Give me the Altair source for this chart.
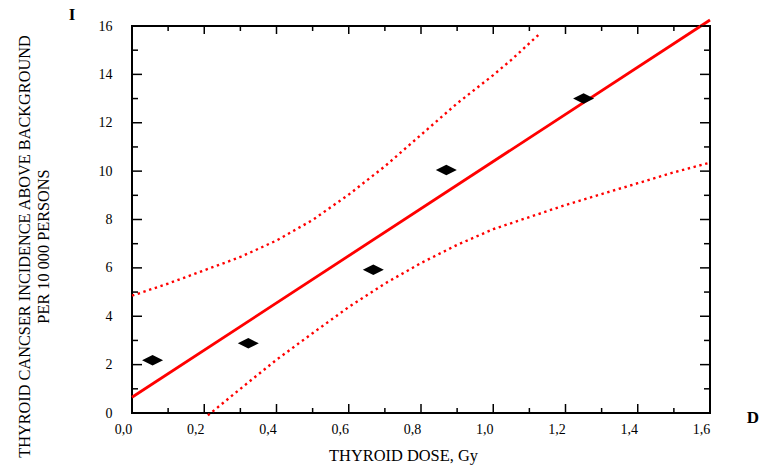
import altair as alt
import pandas as pd

# ---- data ----
dose_points = [0.057, 0.322, 0.668, 0.870, 1.250]
incidence_points = [2.18, 2.88, 5.92, 10.05, 13.00]

fit_dose = [0.0, 1.6]
fit_incidence = [0.65, 16.25]

upper_dose = [0.0, 0.1, 0.2, 0.3, 0.4, 0.5, 0.6, 0.7, 0.8, 0.9, 1.0, 1.05, 1.13]
upper_incidence = [4.85, 5.35, 5.90, 6.45, 7.13, 7.98, 9.03, 10.20, 11.50, 12.80, 13.97, 14.60, 15.70]

lower_dose = [0.21, 0.3, 0.4, 0.5, 0.6, 0.7, 0.8, 0.9, 1.0, 1.1, 1.2, 1.3, 1.4, 1.5, 1.6]
lower_incidence = [-0.10, 1.00, 2.20, 3.30, 4.38, 5.35, 6.20, 6.95, 7.60, 8.10, 8.60, 9.05, 9.50, 9.95, 10.35]

x_major = [0.0, 0.2, 0.4, 0.6, 0.8, 1.0, 1.2, 1.4, 1.6]
x_minor = [0.1, 0.3, 0.5, 0.7, 0.9, 1.1, 1.3, 1.5]
y_major = [0, 2, 4, 6, 8, 10, 12, 14, 16]
y_minor = [1, 3, 5, 7, 9, 11, 13, 15]

x_title = "THYROID DOSE, Gy"
y_title = ["THYROID CANCSER INCIDENCE ABOVE BACKGROUND", "PER 10 000 PERSONS"]
corner_labels = ["I", "D"]

# ---- layout ----
W, H = 578, 387
FONT = "Liberation Serif"
RED = "#ff0000"

xs = alt.Scale(domain=[0, 1.6], nice=False, zero=False)
ys = alt.Scale(domain=[0, 16], nice=False, zero=False)

pts = pd.DataFrame({"dose": dose_points, "inc": incidence_points})
fit = pd.DataFrame({"dose": fit_dose, "inc": fit_incidence})
upper = pd.DataFrame({"dose": upper_dose, "inc": upper_incidence})
lower = pd.DataFrame({"dose": lower_dose, "inc": lower_incidence})

x_axis = alt.Axis(
    values=x_major,
    labelExpr="replace(format(datum.value, '.1f'), '.', ',')",
    domain=False, ticks=False, grid=False,
    labelPadding=9, labelOffset=-9, labelFlush=False,
    labelFontSize=14, titleFontSize=16.4, titlePadding=11,
    titleX=271,
)
y_axis = alt.Axis(
    values=y_major,
    format="d",
    domain=False, ticks=False, grid=False,
    labelPadding=20, labelFontSize=14, titleFontSize=16.3,
    titleLineHeight=19, titlePadding=47, titleY=220,
)


def X(field):
    return alt.X(field, type="quantitative", scale=xs, axis=x_axis, title=x_title)


def Y(field):
    return alt.Y(field, type="quantitative", scale=ys, axis=y_axis, title=y_title)


fit_line = alt.Chart(fit).mark_line(color=RED, strokeWidth=2.8).encode(
    x=X("dose"), y=Y("inc"),
)


def dotted(df):
    return alt.Chart(df).mark_line(
        color=RED, strokeWidth=2.4, strokeDash=[2.4, 3.6]
    ).encode(x=X("dose"), y=Y("inc"))


diamonds = alt.Chart(pts).mark_point(
    shape="M-1,0L0,-0.5L1,0L0,0.5Z", filled=True, color="black", opacity=1, size=441
).encode(x=X("dose"), y=Y("inc"))


def x_ticks(vals, length, top):
    d = pd.DataFrame({"dose": vals})
    if top:
        yy, yy2 = alt.value(0), alt.value(length)
    else:
        yy, yy2 = alt.value(H), alt.value(H - length)
    return alt.Chart(d).mark_rule(color="black", strokeWidth=1.5).encode(
        x=X("dose"), y=yy, y2=yy2
    )


def y_ticks(vals, length, right):
    d = pd.DataFrame({"inc": vals})
    if right:
        xx, xx2 = alt.value(W), alt.value(W - length)
    else:
        xx, xx2 = alt.value(0), alt.value(length)
    return alt.Chart(d).mark_rule(color="black", strokeWidth=1.5).encode(
        y=Y("inc"), x=xx, x2=xx2
    )


ticks = [
    x_ticks(x_major, 9, False), x_ticks(x_minor, 5, False),
    x_ticks(x_major, 8, True), x_ticks(x_minor, 5, True),
    y_ticks(y_major, 10, False), y_ticks(y_minor, 6, False),
    y_ticks(y_major, 10, True), y_ticks(y_minor, 6, True),
]

lab_i = alt.Chart(pd.DataFrame({"t": [corner_labels[0]]})).mark_text(
    font=FONT, fontSize=17, fontWeight="bold", color="black", align="center", baseline="middle"
).encode(text="t:N", x=alt.value(-60), y=alt.value(-11))

lab_d = alt.Chart(pd.DataFrame({"t": [corner_labels[1]]})).mark_text(
    font=FONT, fontSize=17, fontWeight="bold", color="black", align="center", baseline="middle"
).encode(text="t:N", x=alt.value(621), y=alt.value(392))

chart = alt.layer(
    fit_line, dotted(upper), dotted(lower), diamonds, *ticks, lab_i, lab_d
).properties(
    width=W, height=H,
    autosize=alt.AutoSizeParams(type="none"),
    padding={"left": 132, "top": 26, "right": 51, "bottom": 55},
    background="white",
).configure_view(
    stroke="black", strokeWidth=2
).configure_axis(
    labelFont=FONT, titleFont=FONT, labelColor="black", titleColor="black",
    titleFontWeight="normal",
)

chart.save("out.html", embed_options={"renderer": "svg", "actions": False})
